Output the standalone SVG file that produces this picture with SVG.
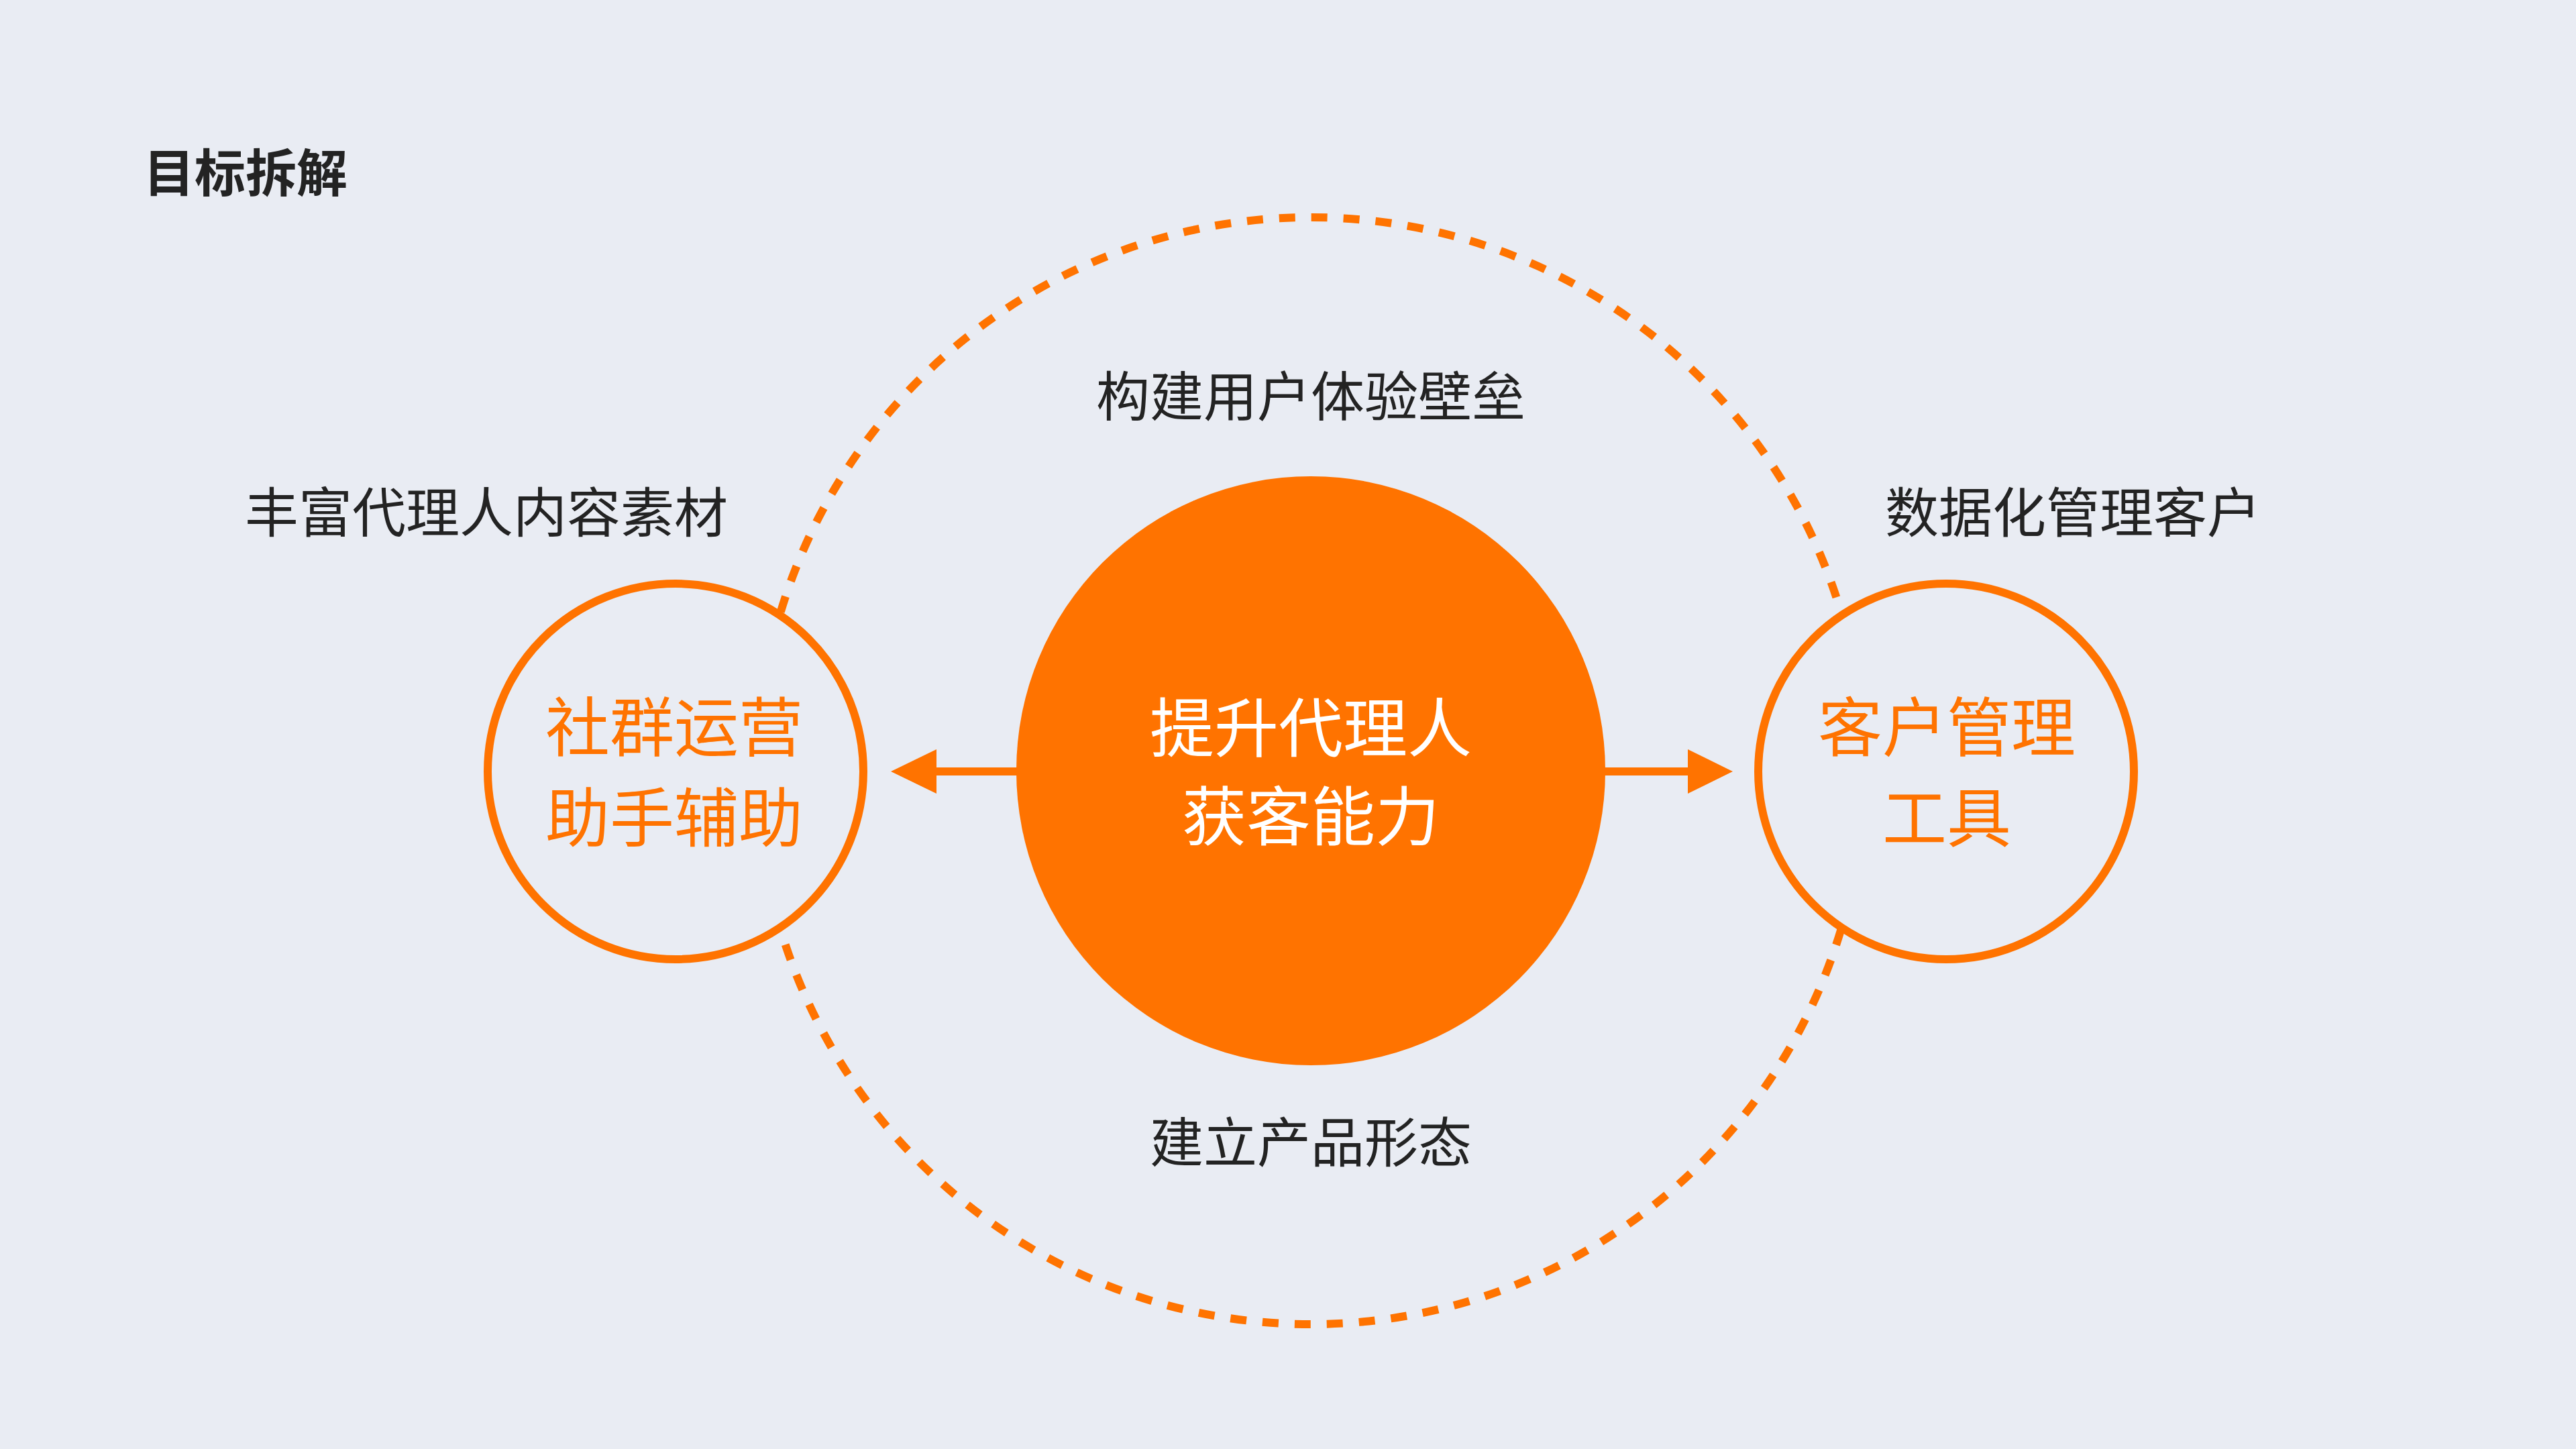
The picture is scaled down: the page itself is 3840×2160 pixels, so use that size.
<svg xmlns="http://www.w3.org/2000/svg" width="3840" height="2160" viewBox="0 0 3840 2160">
  <style>
    text { font-family: "Noto Sans CJK SC", "Noto Sans", sans-serif; text-anchor: middle; }
    .title { font-size: 76px; font-weight: 700; fill: #232323; text-anchor: start; }
    .label { font-size: 80px; fill: #232323; }
    .orange-text { font-size: 96px; fill: #FF7300; }
    .white-text { font-size: 96px; fill: #FFFFFF; }
    .ring { fill: #E9ECF3; stroke: #FF7300; stroke-width: 12; }
    .dash { fill: none; stroke: #FF7300; stroke-width: 12; stroke-dasharray: 24 24; }
    .arrow-line { stroke: #FF7300; stroke-width: 12; fill: none; }
    .arrow-head { fill: #FF7300; }
  </style>
  <rect x="0" y="0" width="3840" height="2160" fill="#E9ECF3"/>

  <g id="title">
    <text class="title" x="214" y="286">目标拆解</text>
  </g>

  <g id="outer-ring">
    <circle class="dash" cx="1954" cy="1149" r="825"/>
  </g>

  <g id="connectors">
    <line class="arrow-line" x1="1520" y1="1150" x2="1390" y2="1150"/>
    <polygon class="arrow-head" points="1328,1150 1396,1117 1396,1183"/>
    <line class="arrow-line" x1="2388" y1="1150" x2="2522" y2="1150"/>
    <polygon class="arrow-head" points="2583,1150 2516,1117 2516,1183"/>
  </g>

  <g id="center-node">
    <circle cx="1954" cy="1149" r="439" fill="#FF7300"/>
    <text class="white-text" x="1954" y="1120">提升代理人</text>
    <text class="white-text" x="1954" y="1252">获客能力</text>
  </g>

  <g id="left-node">
    <circle class="ring" cx="1007" cy="1150" r="280"/>
    <text class="orange-text" x="1005" y="1119">社群运营</text>
    <text class="orange-text" x="1005" y="1254">助手辅助</text>
  </g>

  <g id="right-node">
    <circle class="ring" cx="2901" cy="1150" r="280"/>
    <text class="orange-text" x="2902" y="1119">客户管理</text>
    <text class="orange-text" x="2902" y="1254">工具</text>
  </g>

  <g id="label-top">
    <text class="label" x="1954" y="620">构建用户体验壁垒</text>
  </g>
  <g id="label-left">
    <text class="label" x="725" y="793">丰富代理人内容素材</text>
  </g>
  <g id="label-right">
    <text class="label" x="3090" y="793">数据化管理客户</text>
  </g>
  <g id="label-bottom">
    <text class="label" x="1954" y="1732">建立产品形态</text>
  </g>
</svg>
